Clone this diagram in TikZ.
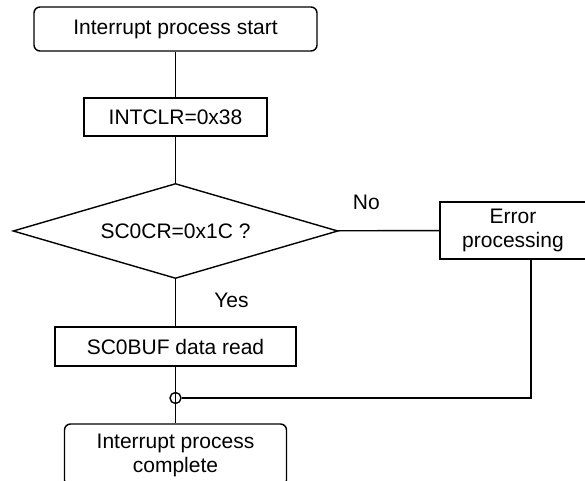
\documentclass[tikz,border=0pt]{standalone}
\usepackage{fontspec}
\setmainfont{Liberation Sans}
\usetikzlibrary{shapes.geometric, calc}

\begin{document}
\begin{tikzpicture}[x=0.5pt, y=-0.5pt,
    every node/.style={font=\fontsize{10.5}{12}\selectfont},
    pb/.style={draw, line width=0.7pt, align=center, inner sep=0pt},
    rb/.style={pb, rounded corners=3pt},
    dc/.style={pb, diamond, aspect=3.4},
    ln/.style={line width=0.7pt},
    al/.style={inner sep=1pt}
]
\useasboundingbox (0,0) rectangle (585,481);
\node[rb, minimum width=141.5pt, minimum height=22pt] (start) at (175.5,29) {Interrupt process start};
\node[pb, minimum width=91.5pt, minimum height=19pt] (intclr) at (175.5,117) {INTCLR=0x38};
\node[dc, minimum width=162.5pt, minimum height=47.5pt] (check) at (175.5,231) {SC0CR=0x1C ?};
\node[pb, minimum width=73pt, minimum height=28.5pt] (err) at (513,230.5) {Error\\processing};
\node[pb, minimum width=120.5pt, minimum height=19.5pt] (rd) at (175.5,346.5) {SC0BUF data read};
\node[rb, minimum width=111pt, minimum height=31pt] (done) at (175.5,455) {Interrupt process\\complete};
\node[draw, ln, circle, inner sep=0pt, minimum size=5.5pt] (jn) at (175.5,398) {};
\coordinate (turn) at (531,398);
\draw[ln] (start) -- (intclr);
\draw[ln] (intclr) -- (check);
\draw[ln] (check) -- node[al, pos=0.28, yshift=14pt]{No} (err);
\draw[ln] (check) -- node[al, pos=0.44, xshift=28pt]{Yes} (rd);
\draw[ln] (rd) -- (done);
\draw[ln] (err.south -| turn) -- (turn) -- (jn.east);
\end{tikzpicture}
\end{document}
